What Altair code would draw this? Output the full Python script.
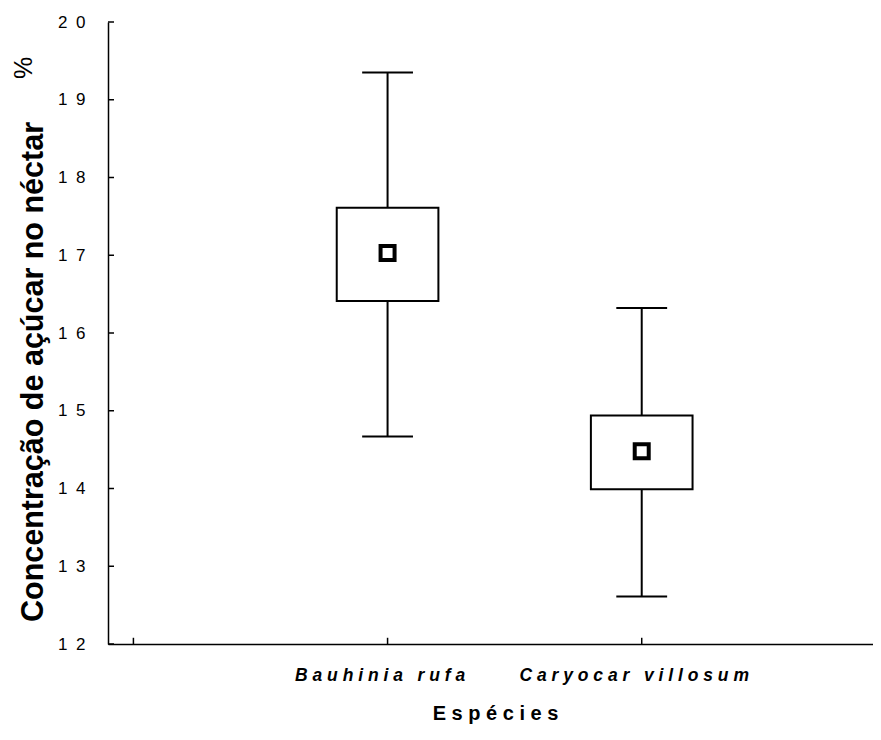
import altair as alt
import pandas as pd

# ---- data ----
species = ["Bauhinia rufa", "Caryocar villosum"]
species_labels = ["B a u h i n i a \u00a0 r u f a", "C a r y o c a r \u00a0 v i l l o s u m"]
positions = [1, 2]
whisker_low = [14.67, 12.61]
box_low = [16.41, 13.99]
means = [17.03, 14.48]
box_high = [17.61, 14.94]
whisker_high = [19.35, 16.32]

y_ticks = [12, 13, 14, 15, 16, 17, 18, 19, 20]
y_tick_labels = ["1\u20022", "1\u20023", "1\u20024", "1\u20025", "1\u20026",
                 "1\u20027", "1\u20028", "1\u20029", "2\u20020"]
x_ticks = [0, 1, 2]
x_tick_labels = ["", species_labels[0], species_labels[1]]

y_title = "Concentração de açúcar no néctar"
y_title_unit = "%"
x_title = "E s p é c i e s"

df = pd.DataFrame({
    "species": species,
    "pos": positions,
    "wlo": whisker_low,
    "blo": box_low,
    "mean": means,
    "bhi": box_high,
    "whi": whisker_high,
})
df_yt = pd.DataFrame({"value": y_ticks})
df_xt = pd.DataFrame({"value": x_ticks})


def label_expr(vals, labels):
    expr = "''"
    for v, l in reversed(list(zip(vals, labels))):
        expr = f"datum.value == {v} ? '{l}' : ({expr})"
    return expr


FONT = "Liberation Sans, Arial, sans-serif"

xscale = alt.Scale(domain=[-0.1, 2.91], nice=False, zero=False)
yscale = alt.Scale(domain=[12, 20], nice=False, zero=False)

xaxis = alt.Axis(
    values=x_ticks,
    labelExpr=label_expr(x_ticks, x_tick_labels),
    title=x_title,
    ticks=False,
    domain=True,
    domainColor="black",
    domainWidth=1.5,
    grid=False,
    labelFont=FONT,
    labelFontSize=17.5,
    labelFontWeight="bold",
    labelFontStyle="italic",
    labelColor="black",
    labelPadding=22,
    labelOffset=-8,
    labelLimit=0,
    titleFont=FONT,
    titleFontSize=20,
    titleFontWeight="bold",
    titleColor="black",
    titleX=387,
    titleY=75,
    titleBaseline="alphabetic",
)
yaxis = alt.Axis(
    values=y_ticks,
    labelExpr=label_expr(y_ticks, y_tick_labels),
    title=None,
    ticks=False,
    domain=True,
    domainColor="black",
    domainWidth=1.5,
    grid=False,
    labelFont=FONT,
    labelFontSize=17,
    labelColor="black",
    labelPadding=23,
    labelBaseline="middle",
)

base = alt.Chart(df).transform_calculate(
    cap_l="datum.pos - 0.1",
    cap_r="datum.pos + 0.1",
    box_l="datum.pos - 0.2",
    box_r="datum.pos + 0.2",
)

whisker = base.mark_rule(color="black", strokeWidth=2).encode(
    x=alt.X("pos:Q", scale=xscale, axis=xaxis),
    y=alt.Y("wlo:Q", scale=yscale, axis=yaxis),
    y2="whi:Q",
)
cap_low = base.mark_rule(color="black", strokeWidth=2).encode(
    x=alt.X("cap_l:Q", scale=xscale), x2="cap_r:Q", y=alt.Y("wlo:Q", scale=yscale)
)
cap_high = base.mark_rule(color="black", strokeWidth=2).encode(
    x=alt.X("cap_l:Q", scale=xscale), x2="cap_r:Q", y=alt.Y("whi:Q", scale=yscale)
)
box = base.mark_rect(fill="white", stroke="black", strokeWidth=2).encode(
    x=alt.X("box_l:Q", scale=xscale), x2="box_r:Q",
    y=alt.Y("blo:Q", scale=yscale), y2="bhi:Q",
)
mean_pt = base.mark_square(size=196, fill="white", stroke="black", strokeWidth=4, opacity=1).encode(
    x=alt.X("pos:Q", scale=xscale), y=alt.Y("mean:Q", scale=yscale)
)

# inward tick marks
ytick_marks = alt.Chart(df_yt).mark_rule(color="black", strokeWidth=1.5).encode(
    x=alt.value(0), x2=alt.value(6), y=alt.Y("value:Q", scale=yscale)
)
xtick_marks = alt.Chart(df_xt).transform_calculate(
    lo="12", hi="12.08"
).mark_rule(color="black", strokeWidth=1.5).encode(
    x=alt.X("value:Q", scale=xscale), y=alt.Y("lo:Q", scale=yscale), y2="hi:Q"
)

ytitle = alt.Chart(pd.DataFrame({"t": [y_title]})).mark_text(
    angle=270, fontSize=30.5, font=FONT, fontWeight="bold", color="black",
    align="center", baseline="alphabetic"
).encode(x=alt.value(-65), y=alt.value(350), text="t:N")

pct = alt.Chart(pd.DataFrame({"t": [y_title_unit]})).mark_text(
    angle=270, fontSize=25, font=FONT, color="black", align="center", baseline="middle"
).encode(x=alt.value(-84), y=alt.value(46), text="t:N")

chart = alt.layer(
    whisker, cap_low, cap_high, box, mean_pt, ytick_marks, xtick_marks, ytitle, pct
).properties(
    width=765,
    height=622,
    autosize="none",
    padding={"left": 100, "top": 14, "right": 0, "bottom": 94},
    background="white",
).configure_view(stroke=None)

chart.save("out.html", embed_options={"renderer": "svg", "actions": False})
